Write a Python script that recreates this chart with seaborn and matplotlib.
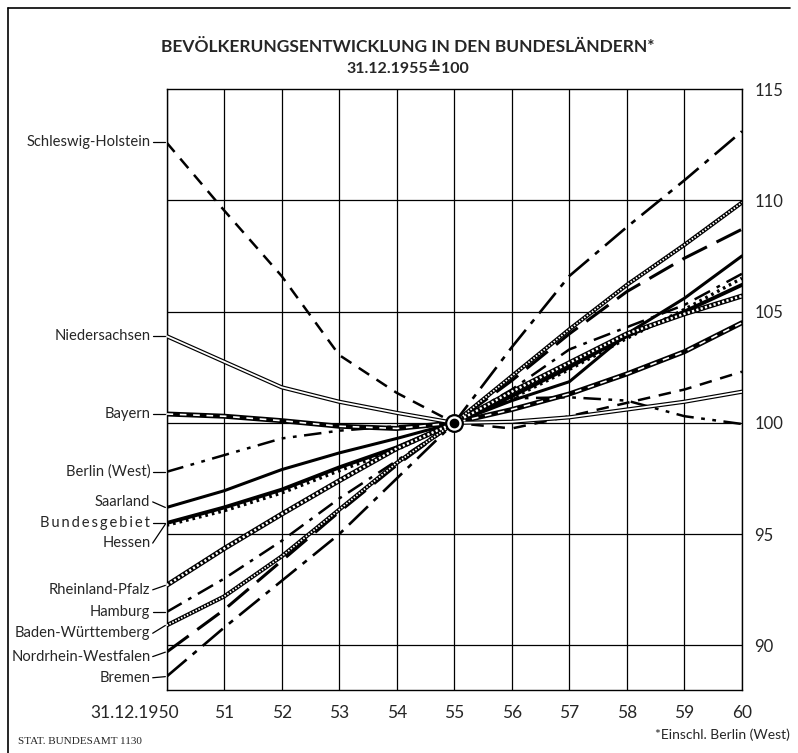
import pandas as pd
import matplotlib.pyplot as plt
import seaborn as sns
from matplotlib.lines import Line2D
from matplotlib.transforms import ScaledTranslation


# =========================================
# Data (31.12.1955 = 100)
# =========================================

years = [1950, 1951, 1952, 1953, 1954, 1955, 1956, 1957, 1958, 1959, 1960]

schleswig_holstein = [112.6, 109.55, 106.6, 103.05, 101.35, 100.0, 99.75, 100.3, 100.9, 101.5, 102.3]
niedersachsen = [103.9, 102.75, 101.6, 100.95, 100.45, 100.0, 100.05, 100.25, 100.6, 100.95, 101.4]
bayern = [100.4, 100.3, 100.1, 99.85, 99.75, 100.0, 100.6, 101.3, 102.2, 103.2, 104.5]
berlin_west = [97.8, 98.55, 99.3, 99.65, 99.85, 100.0, 101.1, 101.15, 101.0, 100.3, 99.95]
saarland = [96.2, 96.95, 97.9, 98.65, 99.3, 100.0, 101.0, 101.85, 104.0, 105.6, 107.5]
bundesgebiet = [95.5, 96.2, 97.0, 98.0, 98.9, 100.0, 101.2, 102.5, 103.9, 105.0, 106.2]
hessen = [95.4, 96.05, 96.85, 97.85, 98.8, 100.0, 101.1, 102.4, 103.8, 105.1, 106.5]
rheinland_pfalz = [92.7, 94.35, 95.9, 97.4, 98.85, 100.0, 101.4, 102.7, 104.0, 104.9, 105.7]
hamburg = [91.5, 93.0, 94.7, 96.6, 98.3, 100.0, 101.5, 103.3, 104.3, 105.3, 106.7]
baden_wuerttemberg = [90.9, 92.2, 94.0, 96.1, 98.2, 100.0, 102.1, 104.2, 106.2, 108.0, 109.9]
nordrhein_westfalen = [89.7, 91.6, 93.8, 96.0, 98.1, 100.0, 101.9, 104.0, 105.9, 107.4, 108.7]
bremen = [88.6, 90.8, 92.9, 95.0, 97.5, 100.0, 103.4, 106.6, 108.8, 110.9, 113.1]

# left-hand labels: (text, y of text, y where the leader meets the line)
labels = [
    ("Schleswig-Holstein", 112.6, 112.6),
    ("Niedersachsen", 103.9, 103.9),
    ("Bayern", 100.4, 100.4),
    ("Berlin (West)", 97.8, 97.8),
    ("Saarland", 96.45, 96.2),
    ("B\u2009u\u2009n\u2009d\u2009e\u2009s\u2009g\u2009e\u2009b\u2009i\u2009e\u2009t", 95.5, 95.5),
    ("Hessen", 94.6, 95.45),
    ("Rheinland-Pfalz", 92.5, 92.7),
    ("Hamburg", 91.5, 91.5),
    ("Baden-Württemberg", 90.55, 90.9),
    ("Nordrhein-Westfalen", 89.5, 89.7),
    ("Bremen", 88.55, 88.6),
]

x_ticks = years
x_labels = ["31.12.1950", "51", "52", "53", "54", "55", "56", "57", "58", "59", "60"]
y_ticks = [90, 95, 100, 105, 110, 115]


# =========================================
# Style
# =========================================

sns.set_style("white")
plt.rcParams["font.family"] = ["Lato", "DejaVu Sans"]

fig = plt.figure(figsize=(7.98, 7.53), dpi=100)
ax = fig.add_axes([166.5 / 798, 63 / 753, 575.5 / 798, 601 / 753])

ax.set_xlim(1950, 1960)
ax.set_ylim(88.0, 115)

# grid
for x in years:
    ax.axvline(x, color="black", lw=0.9, zorder=1)
for y in [90, 95, 100, 105, 110]:
    ax.axhline(y, color="black", lw=0.9, zorder=1)
for side in ax.spines.values():
    side.set_color("black")
    side.set_linewidth(1.0)


# =========================================
# Lines
# =========================================

def draw(values, **kw):
    df = pd.DataFrame({"year": years, "value": values})
    sns.lineplot(data=df, x="year", y="value", ax=ax, color=kw.pop("color", "black"),
                 legend=False, **kw)


# Schleswig-Holstein: dashed
draw(schleswig_holstein, lw=1.8, linestyle=(0, (5, 3.5)), zorder=3)

# Niedersachsen: hollow double line
draw(niedersachsen, lw=3.0, zorder=3)
draw(niedersachsen, lw=1.3, color="white", zorder=3.1)

# Bayern: thick black, white dashes inside
draw(bayern, lw=3.6, zorder=3)
draw(bayern, lw=1.2, color="white", linestyle=(0, (4, 4)), zorder=3.1)

# Berlin (West): dash-dot-dot
draw(berlin_west, lw=1.8, linestyle=(0, (7, 3, 1.5, 3, 1.5, 3)), zorder=3)

# Saarland: solid
draw(saarland, lw=2.2, zorder=3)

# Bundesgebiet: heavy solid, Hessen: dotted
draw(bundesgebiet, lw=2.8, zorder=3)
draw(hessen, lw=2.4, linestyle=(0, (0.8, 1.2)), zorder=3)

# Rheinland-Pfalz: heavy hollow chain
draw(rheinland_pfalz, lw=3.6, zorder=3)
draw(rheinland_pfalz, lw=1.8, color="white", linestyle=(0, (0.9, 0.9)), zorder=3.1)

# Hamburg: dash-dot
draw(hamburg, lw=1.8, linestyle=(0, (7, 3, 1.5, 3)), zorder=3)

# Baden-Württemberg: thinner hollow chain
draw(baden_wuerttemberg, lw=3.0, zorder=3)
draw(baden_wuerttemberg, lw=1.3, color="white", linestyle=(0, (0.9, 0.9)), zorder=3.1)

# Nordrhein-Westfalen: long dashes
draw(nordrhein_westfalen, lw=2.2, linestyle=(0, (9, 3.5)), zorder=3)

# Bremen: long dash-dot
draw(bremen, lw=1.9, linestyle=(0, (10, 3, 2, 3)), zorder=3)

# common point 31.12.1955
ax.plot([1955], [100], marker="o", ms=12, mfc="white", mec="black", mew=1.6, zorder=5)
ax.plot([1955], [100], marker="o", ms=6, mfc="black", mec="black", zorder=6)


# =========================================
# Axes, labels, text
# =========================================

ax.set_xlabel("")
ax.set_ylabel("")
ax.set_xticks(x_ticks)
ax.set_xticklabels(x_labels, fontsize=12.5)
ax.tick_params(axis="x", length=0, pad=11)
first = ax.get_xticklabels()[0]
first.set_horizontalalignment("right")
first.set_transform(first.get_transform() + ScaledTranslation(0.12, 0, fig.dpi_scale_trans))

ax.yaxis.tick_right()
ax.set_yticks(y_ticks)
ax.set_yticklabels([str(v) for v in y_ticks], fontsize=12)
ax.tick_params(axis="y", length=0, pad=9)

for text, ty, ly in labels:
    ax.text(1949.72, ty, text, ha="right", va="center", fontsize=10.6, clip_on=False)
    ax.plot([1949.76, 1949.98], [ty, ly], color="black", lw=0.9, clip_on=False)

fig.text(0.511, 0.937, "BEVÖLKERUNGSENTWICKLUNG IN DEN BUNDESLÄNDERN*",
         ha="center", va="center", fontsize=12.5, fontweight="bold")
fig.text(0.511, 0.909, "31.12.1955\u2259100",
         ha="center", va="center", fontsize=11.5, fontweight="bold",
         family=["Lato", "DejaVu Sans"])

fig.text(18 / 798, 1 - 742 / 753, "STAT. BUNDESAMT 1130", ha="left", va="center",
         fontsize=8, family="Liberation Serif")
fig.text(790 / 798, 1 - 735 / 753, "*Einschl. Berlin (West)", ha="right", va="center",
         fontsize=10)

# page frame (top and left edge of the original sheet)
fig.add_artist(Line2D([8 / 798, 790 / 798], [1 - 8 / 753, 1 - 8 / 753],
                      transform=fig.transFigure, color="black", lw=1.2))
fig.add_artist(Line2D([8 / 798, 8 / 798], [1 - 8 / 753, 0],
                      transform=fig.transFigure, color="black", lw=1.2))

fig.savefig("out.png", dpi=100)
plt.close(fig)
